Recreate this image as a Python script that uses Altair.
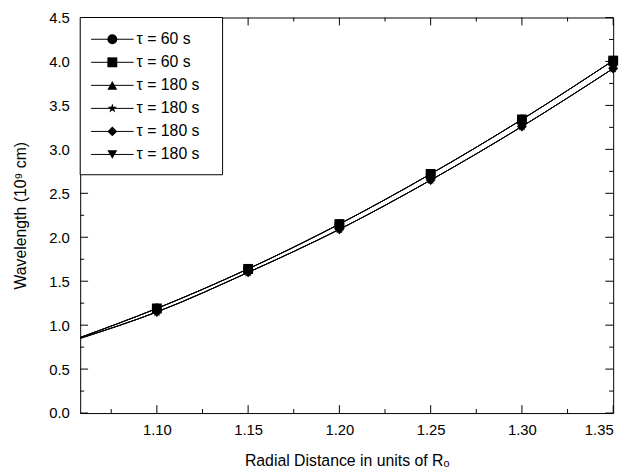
import altair as alt
import pandas as pd

# ---- data ----
x_pts = [1.058, 1.10, 1.15, 1.20, 1.25, 1.30, 1.35]
upper = [0.86, 1.19, 1.64, 2.15, 2.72, 3.34, 4.01]
lower = [0.85, 1.15, 1.60, 2.09, 2.65, 3.26, 3.92]

series_keys = ["s1", "s2", "s3", "s4", "s5", "s6"]
series_labels = ["τ = 60 s", "τ = 60 s", "τ = 180 s", "τ = 180 s", "τ = 180 s", "τ = 180 s"]
series_curve = ["upper", "upper", "upper", "lower", "lower", "lower"]

x_major = [1.10, 1.15, 1.20, 1.25, 1.30, 1.35]
x_minor = [1.075, 1.125, 1.175, 1.225, 1.275, 1.325]
y_major = [0.0, 0.5, 1.0, 1.5, 2.0, 2.5, 3.0, 3.5, 4.0, 4.5]
y_minor = [0.25, 0.75, 1.25, 1.75, 2.25, 2.75, 3.25, 3.75, 4.25]

STAR = ("M0,-1L0.2245,-0.309L0.951,-0.309L0.363,0.118L0.588,0.809L0,0.382"
        "L-0.588,0.809L-0.363,0.118L-0.951,-0.309L-0.2245,-0.309Z")
shapes = ["circle", "square", "triangle-up", STAR, "diamond", "triangle-down"]

W, H = 539, 400
FONT = "Liberation Sans"

rows = []
for k, lab, c in zip(series_keys, series_labels, series_curve):
    vals = upper if c == "upper" else lower
    for i, (xv, yv) in enumerate(zip(x_pts, vals)):
        rows.append({"key": k, "label": lab, "x": xv, "y": yv, "marker": i > 0})
df = pd.DataFrame(rows)

xs = alt.Scale(domain=[1.058, 1.35], nice=False, zero=False)
ys = alt.Scale(domain=[0.0, 4.5], nice=False)
shape_scale = alt.Scale(domain=series_keys, range=shapes)

base = alt.Chart(df)
lines = base.mark_line(color="black", strokeWidth=1, clip=True, interpolate="monotone").encode(
    x=alt.X("x:Q", scale=xs,
            axis=alt.Axis(values=x_major, format=".2f", ticks=False, grid=False,
                          title="Radial Distance in units of Rₒ", labelPadding=10,
                          titlePadding=15)),
    y=alt.Y("y:Q", scale=ys,
            axis=alt.Axis(values=y_major, format=".1f", ticks=False, grid=False,
                          title="Wavelength (10⁹ cm)", labelPadding=11,
                          titlePadding=20)),
    detail="key:N",
)
points = base.transform_filter("datum.marker").mark_point(
    filled=True, color="black", size=100, opacity=1, clip=False
).encode(
    x=alt.X("x:Q", scale=xs),
    y=alt.Y("y:Q", scale=ys),
    shape=alt.Shape("key:N", scale=shape_scale, legend=None),
)

# inward ticks on all four sides
tx = pd.DataFrame({"v": x_major + x_minor, "len": [8] * len(x_major) + [4] * len(x_minor)})
ty = pd.DataFrame({"v": y_major + y_minor, "len": [8] * len(y_major) + [4] * len(y_minor)})

def tick_layers():
    out = []
    for lenv, sub in tx.groupby("len"):
        c = alt.Chart(sub)
        out.append(c.mark_rule(color="black", strokeWidth=1).encode(
            x=alt.X("v:Q", scale=xs), y=alt.value(H), y2=alt.value(H - lenv)))
        out.append(c.mark_rule(color="black", strokeWidth=1).encode(
            x=alt.X("v:Q", scale=xs), y=alt.value(0), y2=alt.value(lenv)))
    for lenv, sub in ty.groupby("len"):
        c = alt.Chart(sub)
        out.append(c.mark_rule(color="black", strokeWidth=1).encode(
            y=alt.Y("v:Q", scale=ys), x=alt.value(0), x2=alt.value(lenv)))
        out.append(c.mark_rule(color="black", strokeWidth=1).encode(
            y=alt.Y("v:Q", scale=ys), x=alt.value(W), x2=alt.value(W - lenv)))
    return out

# manual legend (box in top-left corner of the plot)
leg = pd.DataFrame({"key": series_keys, "label": series_labels,
                    "ly": [22 + 23.3 * i for i in range(len(series_keys))]})
lc = alt.Chart(leg)
legend_box = alt.Chart(pd.DataFrame({"a": [0]})).mark_rect(
    fill="white", stroke="black", strokeWidth=1
).encode(x=alt.value(0), x2=alt.value(144), y=alt.value(0), y2=alt.value(159))
legend_lines = lc.mark_rule(color="black", strokeWidth=1).encode(
    x=alt.value(11), x2=alt.value(54), y=alt.Y("ly:Q", scale=None))
legend_pts = lc.mark_point(filled=True, color="black", size=100, opacity=1).encode(
    x=alt.value(32.5), y=alt.Y("ly:Q", scale=None),
    shape=alt.Shape("key:N", scale=shape_scale, legend=None))
legend_text = lc.mark_text(align="left", baseline="middle", fontSize=16,
                           font=FONT, color="black").encode(
    x=alt.value(57), y=alt.Y("ly:Q", scale=None), text="label:N")

chart = alt.layer(
    lines, points, *tick_layers(), legend_box, legend_lines, legend_pts, legend_text
).properties(
    width=W, height=H,
    background="white",
    autosize=alt.AutoSizeParams(type="none"),
    padding={"left": 73, "top": 7, "right": 17, "bottom": 58},
).configure_view(stroke="black", strokeWidth=1).configure_axis(
    domain=False, labelFont=FONT, titleFont=FONT, labelFontSize=15, titleFontSize=16,
    labelColor="black", titleColor="black", titleFontWeight="normal",
)

chart.save("out.html", embed_options={"renderer": "svg", "actions": False})
